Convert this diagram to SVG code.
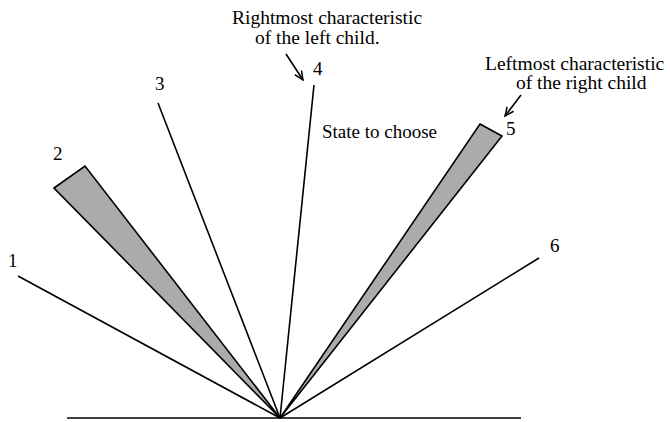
<svg xmlns="http://www.w3.org/2000/svg" width="670" height="422" viewBox="0 0 670 422">
<style>
text{font-family:"Liberation Serif","Times New Roman",serif;font-size:19px;fill:#000}
.n{font-size:19.5px}
.l{stroke:#000;stroke-width:1.6;fill:none}
.w{stroke:#000;stroke-width:1.6;fill:#ababab;stroke-linejoin:miter}
</style>
<defs>
<marker id="ah" viewBox="0 0 10 10" refX="9" refY="5" markerWidth="10" markerHeight="10" orient="auto" markerUnits="userSpaceOnUse">
<path d="M0,1 L9,5 L0,9" fill="none" stroke="#000" stroke-width="1.5"/>
</marker>
</defs>
<g id="connectors">
<line class="l" x1="67" y1="418" x2="521" y2="418" stroke-width="2"/>
<line class="l" x1="18" y1="276" x2="280" y2="418"/>
<polygon id="wedge2" class="w" points="54,188 85,166 280,418"/>
<line class="l" x1="158" y1="103" x2="280" y2="418"/>
<line class="l" x1="314" y1="85" x2="280" y2="418"/>
<polygon id="wedge5" class="w" points="480,124 502,136 280,418"/>
<line class="l" x1="539" y1="258" x2="280" y2="418"/>
<line class="l" x1="286" y1="54" x2="303" y2="80" marker-end="url(#ah)"/>
<line class="l" x1="521" y1="95" x2="505" y2="116" marker-end="url(#ah)"/>
</g>
<g id="labels">
<text x="8" y="267">1</text>
<text x="53" y="160">2</text>
<text x="155" y="90">3</text>
<text x="313" y="75">4</text>
<text x="506" y="135">5</text>
<text x="550" y="252">6</text>
<text class="n" x="232" y="24">Rightmost characteristic</text>
<text class="n" x="255" y="44">of the left child.</text>
<text class="n" x="485" y="70">Leftmost characteristic</text>
<text class="n" x="516" y="89">of the right child</text>
<text x="322" y="138">State to choose</text>
</g>
</svg>
